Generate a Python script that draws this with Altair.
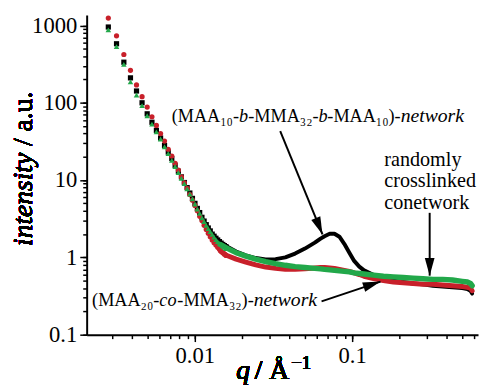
import altair as alt
import pandas as pd

# ---------------- data ----------------
# sparse low-q region (individual markers)
q_lo = [0.00282, 0.00318, 0.00354, 0.00390, 0.00426, 0.00462, 0.00498, 0.00534, 0.00570, 0.00606,
        0.00642, 0.00678, 0.00714, 0.00750, 0.00786, 0.00822, 0.00858, 0.00894, 0.00930, 0.00966,
        0.01002, 0.01038, 0.01074, 0.01110, 0.01146, 0.01182, 0.01218, 0.01254, 0.01290, 0.01326,
        0.01362, 0.01398, 0.01434, 0.01470, 0.01506, 0.01542, 0.01578]
black_lo = [955, 580, 335, 210, 142, 100, 72, 56, 44, 35,
            28, 23, 19, 15.5, 13, 11, 9.3, 8.0, 6.8, 5.8,
            5.0, 4.3, 3.8, 3.3, 2.95, 2.65, 2.4, 2.2, 2.0, 1.88,
            1.77, 1.68, 1.60, 1.53, 1.47, 1.42, 1.38]
red_lo = [1246, 735, 421, 263, 170, 120, 88, 66, 51, 40,
          32, 25, 20.5, 16.5, 13.5, 11, 9.2, 7.8, 6.5, 5.5,
          4.7, 4.0, 3.4, 3.0, 2.6, 2.3, 2.05, 1.85, 1.68, 1.55,
          1.45, 1.35, 1.27, 1.20, 1.15, 1.10, 1.06]
green_lo = [875, 532, 314, 186, 126, 92, 68, 53, 42, 34,
            27, 22, 18, 15, 12.5, 10.5, 9.0, 7.7, 6.6, 5.7,
            4.9, 4.2, 3.7, 3.25, 2.9, 2.6, 2.35, 2.15, 1.98, 1.83,
            1.70, 1.60, 1.52, 1.46, 1.40, 1.35, 1.30]

# dense high-q region (drawn as a thick band)
q_hi = [0.0146, 0.0160, 0.0183, 0.0211, 0.0244, 0.0282, 0.0326, 0.0376, 0.0434, 0.0501,
        0.0579, 0.0630, 0.0668, 0.0720, 0.0772, 0.0830, 0.0891, 0.0960, 0.103, 0.111,
        0.119, 0.137, 0.158, 0.183, 0.211, 0.244, 0.282, 0.326, 0.376, 0.434,
        0.501, 0.540, 0.565, 0.579]
black_hi = [1.55, 1.38, 1.19, 1.06, 0.98, 0.94, 0.95, 1.00, 1.12, 1.30,
            1.55, 1.75, 1.88, 2.02, 2.02, 1.85, 1.50, 1.15, 0.90, 0.76,
            0.68, 0.59, 0.53, 0.50, 0.48, 0.46, 0.45, 0.43, 0.42, 0.41,
            0.40, 0.39, 0.37, 0.34]
red_hi = [1.20, 1.06, 0.95, 0.87, 0.80, 0.75, 0.72, 0.70, 0.70, 0.71,
          0.73, 0.74, 0.74, 0.73, 0.72, 0.70, 0.68, 0.66, 0.63, 0.60,
          0.57, 0.53, 0.50, 0.48, 0.47, 0.46, 0.45, 0.45, 0.44, 0.43,
          0.42, 0.41, 0.40, 0.37]
green_hi = [1.46, 1.32, 1.15, 1.04, 0.95, 0.88, 0.83, 0.79, 0.76, 0.74,
            0.72, 0.71, 0.70, 0.69, 0.68, 0.67, 0.66, 0.65, 0.63, 0.62,
            0.61, 0.59, 0.57, 0.56, 0.55, 0.54, 0.53, 0.52, 0.52, 0.51,
            0.49, 0.48, 0.46, 0.43]

x_major = [0.01, 0.1]
x_minor = [0.003, 0.004, 0.005, 0.006, 0.007, 0.008, 0.009,
           0.02, 0.03, 0.04, 0.05, 0.06, 0.07, 0.08, 0.09,
           0.2, 0.3, 0.4, 0.5, 0.6]
y_major = [0.1, 1, 10, 100, 1000]
y_minor = [0.2, 0.3, 0.4, 0.5, 0.6, 0.7, 0.8, 0.9,
           2, 3, 4, 5, 6, 7, 8, 9,
           20, 30, 40, 50, 60, 70, 80, 90,
           200, 300, 400, 500, 600, 700, 800, 900]

# annotation anchors (data coordinates)
arrow_tail_q = [0.0349, 0.311, 0.0639]
arrow_tail_i = [42.9, 3.77, 0.270]
arrow_tip_q = [0.0648, 0.311, 0.1514]
arrow_tip_i = [1.98, 0.58, 0.486]
arrow_angle = [157.7, 180.0, 71.6]

label1_parts = ["(MAA₁₀-", "b", "-MMA₃₂-", "b", "-MAA₁₀)-", "network"]
label1_q = [0.01909, 0.01909, 0.06117, 0.06117, 0.2033, 0.2033]
label1_i = 55.9
label2_parts = ["(MAA₂₀-", "co", "-MMA₃₂)-", "network"]
label2_q = [0.005953, 0.005953, 0.02368, 0.02368]
label2_i = 0.233
label3_lines = ["randomly", "crosslinked", "conetwork"]
label3_q = 0.160
label3_i = [15.4, 8.08, 4.24]

# ---------------- chart ----------------
FONT = "Liberation Serif"
BLACK = "#000000"
RED = "#c8202a"
GREEN = "#22a84a"
NBSP = "\u00a0"

xs = alt.Scale(type="log", domain=[0.002054, 0.631], nice=False)
ys = alt.Scale(type="log", domain=[0.1, 1361], nice=False)

minor_x = alt.Axis(values=x_major + x_minor, labels=False, tickSize=4, tickWidth=1.5,
                   tickColor="black", domain=True, domainWidth=2, domainColor="black",
                   grid=False, title=None, orient="bottom")
major_x = alt.Axis(values=x_major, format="~g", tickSize=7, tickWidth=1.5, tickColor="black",
                   domain=False, grid=False, title=None, orient="bottom",
                   labelFont=FONT, labelFontSize=23, labelColor="black", labelPadding=3)
minor_y = alt.Axis(values=y_major + y_minor, labels=False, tickSize=4, tickWidth=1.5,
                   tickColor="black", domain=True, domainWidth=2, domainColor="black",
                   grid=False, title=None, orient="left")
major_y = alt.Axis(values=y_major, format="~g", tickSize=7, tickWidth=1.5, tickColor="black",
                   domain=False, grid=False, title=None, orient="left",
                   labelFont=FONT, labelFontSize=23, labelColor="black", labelPadding=3)

lo_df = pd.DataFrame({"q": q_lo, "black": black_lo, "red": red_lo, "green": green_lo})
hi_df = pd.DataFrame({"q": q_hi, "black": black_hi, "red": red_hi, "green": green_hi})


def points(col, shape, size, color, xaxis=None, yaxis=None):
    return alt.Chart(lo_df).mark_point(shape=shape, size=size, filled=True, opacity=1,
                                       color=color).encode(
        x=alt.X("q:Q", scale=xs, axis=xaxis),
        y=alt.Y(f"{col}:Q", scale=ys, axis=yaxis),
    )


def band(col, width, color, xaxis=None, yaxis=None):
    return alt.Chart(hi_df).mark_line(strokeWidth=width, color=color,
                                      strokeJoin="round", strokeCap="round").encode(
        x=alt.X("q:Q", scale=xs, axis=xaxis),
        y=alt.Y(f"{col}:Q", scale=ys, axis=yaxis),
    )


arrows_df = pd.DataFrame({"q1": arrow_tail_q, "i1": arrow_tail_i,
                          "q2": arrow_tip_q, "i2": arrow_tip_i, "ang": arrow_angle})
rules = alt.Chart(arrows_df).mark_rule(strokeWidth=2, color="black").encode(
    x=alt.X("q1:Q", scale=xs, axis=None), x2="q2:Q",
    y=alt.Y("i1:Q", scale=ys, axis=None), y2="i2:Q")
heads = alt.Chart(arrows_df).mark_point(
    shape="M0,0L0.55,2L-0.55,2Z", size=324, filled=True, opacity=1, color="black"
).encode(
    x=alt.X("q2:Q", scale=xs, axis=None),
    y=alt.Y("i2:Q", scale=ys, axis=None),
    angle=alt.Angle("ang:Q", scale=None))


def seg_text(parts, qs, ival, size=18.5):
    layers = []
    for p, qv in zip(parts, qs):
        italic = p in ("b", "co", "network")
        align = "left" if italic else "right"
        fs = 20 if p == "network" else size
        d = pd.DataFrame({"q": [qv], "i": [ival], "t": [p]})
        layers.append(alt.Chart(d).mark_text(
            font=FONT, fontSize=fs, fontStyle="italic" if italic else "normal",
            align=align, baseline="alphabetic", color="black").encode(
            x=alt.X("q:Q", scale=xs, axis=None),
            y=alt.Y("i:Q", scale=ys, axis=None), text="t:N"))
    return layers


lab1 = seg_text(label1_parts, label1_q, label1_i)
lab2 = seg_text(label2_parts, label2_q, label2_i)
lab3_df = pd.DataFrame({"q": [label3_q] * 3, "i": label3_i, "t": label3_lines})
lab3 = alt.Chart(lab3_df).mark_text(font=FONT, fontSize=20.5, align="left",
                                    baseline="alphabetic", color="black").encode(
    x=alt.X("q:Q", scale=xs, axis=None),
    y=alt.Y("i:Q", scale=ys, axis=None), text="t:N")

# axis titles (mixed italic / upright, superscript as its own smaller text)
xt1 = alt.Chart(lo_df).mark_text(text="q", font=FONT, fontSize=28, fontStyle="italic",
                                 align="right", baseline="alphabetic").encode(
    x=alt.value(166), y=alt.value(370))
xt2 = alt.Chart(lo_df).mark_text(text="/" + NBSP + "Å", font=FONT, fontSize=28,
                                 align="right", baseline="alphabetic").encode(
    x=alt.value(206), y=alt.value(370))
xt3 = alt.Chart(lo_df).mark_text(text="−1", font=FONT, fontSize=19,
                                 align="left", baseline="alphabetic").encode(
    x=alt.value(208), y=alt.value(360))
yt1 = alt.Chart(lo_df).mark_text(text="intensity", font=FONT, fontSize=28, fontStyle="italic",
                                 align="right", baseline="alphabetic", angle=270).encode(
    x=alt.value(-56), y=alt.value(140))
yt2 = alt.Chart(lo_df).mark_text(text="/" + NBSP + "a.u.", font=FONT, fontSize=28,
                                 align="left", baseline="alphabetic", angle=270).encode(
    x=alt.value(-56), y=alt.value(133))

chart = alt.layer(
    band("black", 4, BLACK, xaxis=minor_x, yaxis=minor_y),
    points("black", "square", 28, BLACK, xaxis=major_x, yaxis=major_y),
    band("red", 5, RED),
    points("red", "circle", 28, RED),
    band("green", 5.5, GREEN),
    points("green", "triangle-up", 32, GREEN),
    rules, heads,
    *lab1, *lab2, lab3,
    xt1, xt2, xt3, yt1, yt2,
).resolve_axis(x="independent", y="independent").properties(
    width=398, height=325,
    autosize="none",
    padding={"left": 80, "top": 4, "right": 1, "bottom": 53},
    background="white",
).configure_view(stroke=None)

chart.save("out.html", embed_options={"renderer": "svg", "actions": False})
